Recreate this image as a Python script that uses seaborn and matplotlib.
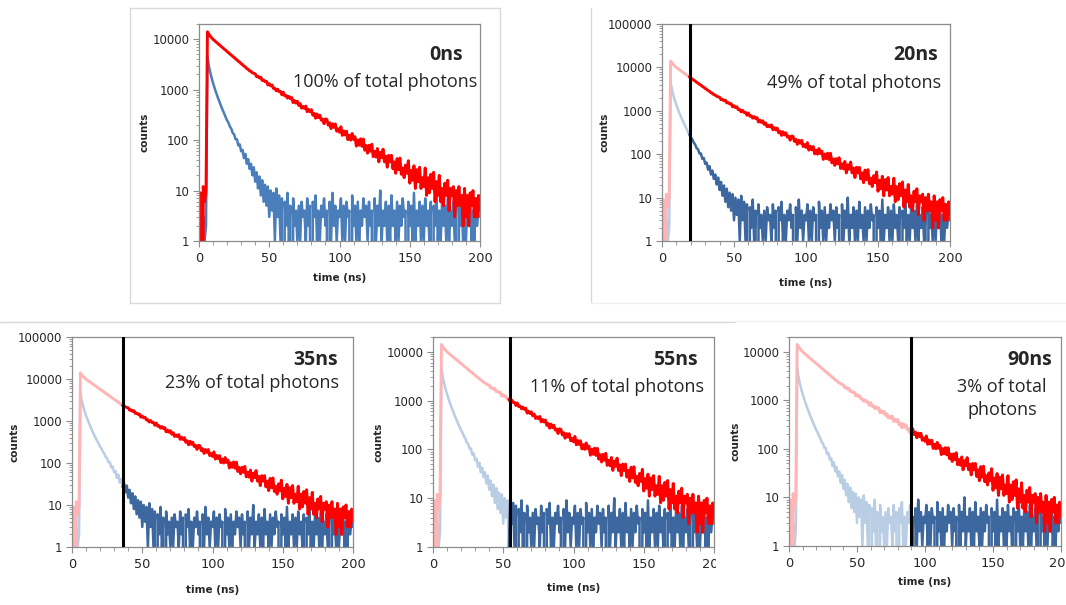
import numpy as np
import pandas as pd
import matplotlib
matplotlib.use("Agg")
import matplotlib.pyplot as plt
import seaborn as sns
from matplotlib.lines import Line2D
from matplotlib.patches import Rectangle
from matplotlib.ticker import LogLocator, NullFormatter, MultipleLocator

# ---------------- data ----------------
time_ns = np.arange(0, 201)

red_counts = [
    2, 9, 0, 12, 6, 10,
    14000, 12600, 11500, 10700, 9900, 9400, 8850, 8420, 7920, 7540, 7080, 6760, 6340, 6050,
    5680, 5420, 5080, 4860, 4550, 4350, 4070, 3900, 3650, 3500, 3260, 3140, 2920, 2820, 2610,
    2530, 2350, 2310, 2150, 2110,
    2060, 1810, 1842, 1698, 1764, 1520, 1548, 1442, 1462, 1235, 1311, 1185, 1234, 1056, 1065, 946,
    1023, 915, 922, 790, 892, 752, 769, 678, 735, 661, 697, 552, 607, 541, 588,
    486, 527, 429, 464, 424, 473, 365, 409, 363, 401, 311, 338, 271, 329, 278,
    312, 248, 261, 211, 263,
    257, 197, 220, 169, 210, 179, 209, 150, 167, 143,
    184, 124, 152, 126, 150, 102, 124, 100, 135, 103,
    117, 76, 101, 79, 106, 75, 105, 63, 78, 55,
    79, 60, 83, 47, 60, 46, 68, 37, 57, 45,
    66, 37, 48, 29, 50, 37, 50, 27, 37, 22,
    43, 26, 44, 21, 28, 18, 32, 22, 39, 14,
    25, 16, 31, 11, 26, 15, 29, 11, 18, 12,
    28, 8, 18, 9, 21, 11, 23, 6, 15, 8,
    20, 6, 11, 5, 14, 8, 16, 4, 11, 8,
    12, 3, 10, 5, 12, 5, 8, 2, 11, 3,
    8, 2, 9, 5, 10, 3, 7, 3, 8, 4,
]

blue_counts = [
    1, 2, 0, 3, 1, 2,
    4500, 3000, 2200, 1700, 1350, 1100, 900, 750, 630, 530, 450, 385, 330, 285,
    245, 220, 185, 168, 138, 130, 104, 104, 78, 82,
    60, 64, 44, 53, 34, 42, 27, 34, 20, 29,
    15, 23, 11, 19, 8, 16, 6, 13, 5, 12,
    3, 10, 4, 9, 1, 11, 3, 8, 1, 7,
    0, 6, 2, 9, 1, 5, 0, 7, 2, 4,
    1,
    5, 1, 6, 3, 4, 1, 7, 2, 5, 0,
    6, 3, 8, 1, 4, 1, 5, 3, 7, 2,
    4, 0, 6, 1, 9, 2, 5, 1, 4, 3,
    7, 1, 5, 1, 6, 3, 4, 0, 8, 2,
    5, 1, 6, 1, 4, 2, 7, 3, 5, 1,
    6, 2, 4, 0, 7, 1, 5, 2, 10, 1,
    4, 2, 6, 1, 5, 1, 8, 2, 4, 1,
    6, 1, 5, 2, 7, 3, 4, 0, 6, 2,
    5, 1, 9, 1, 4, 2, 6, 1, 5, 1,
    7, 2, 4, 1, 6, 0, 5, 2, 8, 1,
    4, 1, 6, 2, 5, 1, 7, 1, 4, 2,
    6, 1, 5, 0, 8, 2, 4, 1, 6, 1,
    5, 2, 7, 1, 4, 1, 6, 2, 5, 3,
]

panel_titles = ["0ns", "20ns", "35ns", "55ns", "90ns"]
panel_notes = ["100% of total photons", "49% of total photons", "23% of total photons",
               "11% of total photons", "3% of total\nphotons"]
cut_positions = [None, 19.5, 36.0, 54.7, 90.0]
y_maxes = [20000, 100000, 100000, 20000, 20000]
y_ticks = [1, 10, 100, 1000, 10000, 100000]
y_ticklabels = ["1", "10", "100", "1000", "10000", "100000"]
x_ticks = [0, 50, 100, 150, 200]
x_ticklabels = ["0", "50", "100", "150", "200"]

df = pd.DataFrame({"time": time_ns, "red": red_counts, "blue": blue_counts})

# ---------------- styling ----------------
sns.set_theme(style="white")
plt.rcParams["font.family"] = ["DejaVu Sans"]

W, H = 1066, 605
RED = "#ff0000"
RED_FADE = "#ffb5b5"
BLUE1 = "#4a7ebb"
BLUE_DARK = "#3c679f"
BLUE_FADE = "#b9cde5"
SPINE = "#8c8c8c"

fig = plt.figure(figsize=(W / 100, H / 100), dpi=100)
fig.patch.set_facecolor("white")

def frac(l, t, r, b):
    return [l / W, 1 - b / H, (r - l) / W, (b - t) / H]

axes_px = [
    (199, 24, 480, 241),
    (662, 24, 950, 241),
    (72, 337, 353, 547),
    (433, 337, 714, 547),
    (789, 337, 1061, 546),
]
xlabel_y = [-0.147, -0.171, -0.181, -0.171, -0.148]
ylabel_x = [-0.175, -0.182, -0.186, -0.175, -0.178]

title_pos = [(463, 60), (938, 60), (338, 365), (698, 365), (1052, 365)]
note_pos = [(477, 87), (941, 88), (339, 388), (704, 392), (1002, 392)]

RED_LW = 2.1
BLUE_LW = 1.8

def draw_line(ax, sub, col, color, lw):
    sns.lineplot(data=sub, x="time", y=col, ax=ax, color=color, linewidth=lw,
                 estimator=None, sort=False, legend=False)

for i, (l, t, r, b) in enumerate(axes_px):
    ax = fig.add_axes(frac(l, t, r, b))
    cut = cut_positions[i]
    if cut is None:
        draw_line(ax, df, "blue", BLUE1, BLUE_LW)
        draw_line(ax, df, "red", RED, RED_LW)
    else:
        pre = df[df["time"] <= np.ceil(cut)]
        post = df[df["time"] >= np.floor(cut)]
        draw_line(ax, pre, "blue", BLUE_FADE, BLUE_LW)
        draw_line(ax, pre, "red", RED_FADE, RED_LW)
        draw_line(ax, post, "blue", BLUE_DARK, BLUE_LW)
        draw_line(ax, post, "red", RED, RED_LW)
        ax.axvline(cut, color="black", linewidth=2.2, zorder=5)

    ax.set_yscale("log", nonpositive="clip")
    ax.set_ylim(1, y_maxes[i])
    ax.set_xlim(0, 200)
    yt = [v for v in y_ticks if v <= y_maxes[i]]
    ax.set_yticks(yt)
    ax.set_yticklabels([y_ticklabels[y_ticks.index(v)] for v in yt])
    ax.yaxis.set_minor_locator(LogLocator(base=10, subs=np.arange(2, 10)))
    ax.yaxis.set_minor_formatter(NullFormatter())
    ax.set_xticks(x_ticks)
    ax.set_xticklabels(x_ticklabels)
    ax.xaxis.set_minor_locator(MultipleLocator(10))

    ax.tick_params(axis="y", which="major", direction="out", length=4, width=0.8,
                   color=SPINE, labelsize=8.5, pad=3, left=True, labelcolor="#262626")
    ax.tick_params(axis="y", which="minor", direction="out", length=2.5, width=0.6,
                   color=SPINE, left=True)
    ax.tick_params(axis="x", which="major", direction="out", length=4, width=0.8,
                   color=SPINE, labelsize=9.3, pad=4, bottom=True, labelcolor="#262626")
    ax.tick_params(axis="x", which="minor", direction="out", length=3, width=0.6,
                   color=SPINE, bottom=True)
    for sp in ax.spines.values():
        sp.set_visible(True)
        sp.set_color(SPINE)
        sp.set_linewidth(0.9)

    ax.set_xlabel("time (ns)", fontsize=7.5, fontweight="bold")
    ax.set_ylabel("counts", fontsize=7.5, fontweight="bold")
    ax.xaxis.set_label_coords(0.5, xlabel_y[i])
    ax.yaxis.set_label_coords(ylabel_x[i], 0.5)

    tx, ty = title_pos[i]
    fig.text(tx / W, 1 - ty / H, panel_titles[i], ha="right", va="baseline",
             fontsize=14, fontweight="bold", family=["Open Sans", "DejaVu Sans"])
    nx, ny = note_pos[i]
    if "\n" in panel_notes[i]:
        first, second = panel_notes[i].split("\n")
        fig.text(nx / W, 1 - ny / H, first, ha="center", va="baseline",
                 fontsize=13, family=["Open Sans", "DejaVu Sans"])
        fig.text(nx / W, 1 - (ny + 23) / H, second, ha="center", va="baseline",
                 fontsize=13, family=["Open Sans", "DejaVu Sans"])
    else:
        fig.text(nx / W, 1 - ny / H, panel_notes[i], ha="right", va="baseline",
                 fontsize=13, family=["Open Sans", "DejaVu Sans"])

# ---------------- decorative frame / separators ----------------
def fig_line(x0, y0, x1, y1, color="#d9d9d9", lw=1.0):
    fig.add_artist(Line2D([x0 / W, x1 / W], [1 - y0 / H, 1 - y1 / H],
                          transform=fig.transFigure, color=color, linewidth=lw))

fig_line(130, 8, 500, 8)
fig_line(130, 303, 500, 303)
fig_line(130, 8, 130, 303)
fig_line(500, 8, 500, 303)
fig_line(591, 8, 591, 302)
fig_line(591, 303, 1066, 303, color="#f0f0f0")
fig_line(0, 322, 735, 322)
fig_line(735, 321, 1066, 321, color="#f0f0f0")

# white patch that crops the "200" label of the fourth panel, as in the source image
fig.add_artist(Rectangle((716 / W, 1 - 575 / H), 22 / W, 25 / H,
                         transform=fig.transFigure, facecolor="white",
                         edgecolor="none", zorder=10))

fig.savefig("out.png", dpi=100, facecolor="white")
